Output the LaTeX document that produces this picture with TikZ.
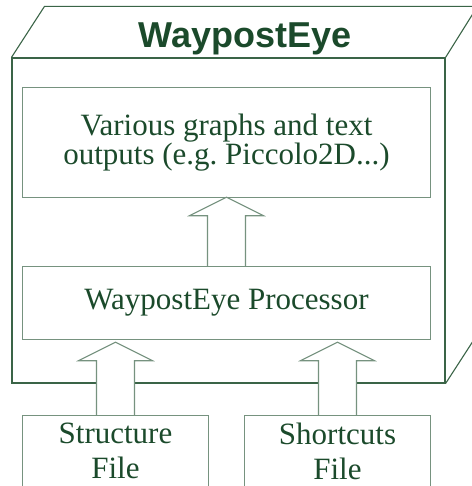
\documentclass[tikz,border=0pt]{standalone}
\usepackage{fontspec}
\setmainfont{Liberation Serif}
\newfontfamily\titlefont{Liberation Sans}
\usetikzlibrary{calc}
\frenchspacing
\definecolor{txtgreen}{HTML}{1B4A2B}
\definecolor{outercol}{HTML}{3A6447}
\definecolor{innercol}{HTML}{76927F}
\newcommand{\hollowup}[2]{%
  \draw[blockarrow] ($(#1)+(-19,0)$) -- ($(#2)+(-19,18.5)$) -- ($(#2)+(-37,18.5)$) -- (#2)
    -- ($(#2)+(37,18.5)$) -- ($(#2)+(19,18.5)$) -- ($(#1)+(19,0)$);}
\begin{document}
\begin{tikzpicture}[x=1pt,y=-1pt,
  outerline/.style={draw=outercol, line width=1.1pt},
  innerline/.style={draw=innercol, line width=1.1pt},
  sysbox/.style={outerline, minimum width=433pt, minimum height=325pt, inner sep=0pt},
  titletext/.style={text=txtgreen, font=\titlefont\bfseries\fontsize{36}{36}\selectfont, inner sep=0pt},
  textbox/.style={text=txtgreen, font=\fontsize{31}{29}\selectfont, align=center, inner sep=0pt, minimum width=407pt},
  filebox/.style={text=txtgreen, font=\fontsize{31}{35}\selectfont, align=center, inner sep=0pt, minimum width=185pt, minimum height=70pt},
  blockarrow/.style={innerline, fill=white}]
\useasboundingbox (0,0) rectangle (471,486);
% outer 3D component box
\node[sysbox] (sys) at (228.5,220.5) {};
\draw[outerline] (sys.north west) -- ++(33,-51) -- ++(433,0) -- (sys.north east);
\draw[outerline] (sys.south east) -- ++(33,-51);
\node[titletext, anchor=base] (title) at (245,48) {WaypostEye};
% inner nodes
\node[textbox, minimum height=109pt] (out) at (226.5,142.5) {Various graphs and text\\outputs (e.g. Piccolo2D...)};
\node[textbox, minimum height=72pt] (proc) at (226.5,303) {WaypostEye Processor};
\node[filebox] (sf) at (115.5,451) {Structure\\File};
\node[filebox] (sc) at (337.5,451) {Shortcuts\\File};
% hollow arrows
\hollowup{proc.north}{out.south}
\hollowup{sf.north}{$(sf.north |- proc.south)+(0,3)$}
\hollowup{sc.north}{$(sc.north |- proc.south)+(0,3)$}
% box borders
\draw[innerline] (out.south west) rectangle (out.north east);
\draw[innerline] (proc.south west) rectangle (proc.north east);
\draw[innerline] (sf.south west) -- (sf.north west) -- (sf.north east) -- (sf.south east);
\draw[innerline] (sc.south west) -- (sc.north west) -- (sc.north east) -- (sc.south east);
\end{tikzpicture}
\end{document}
